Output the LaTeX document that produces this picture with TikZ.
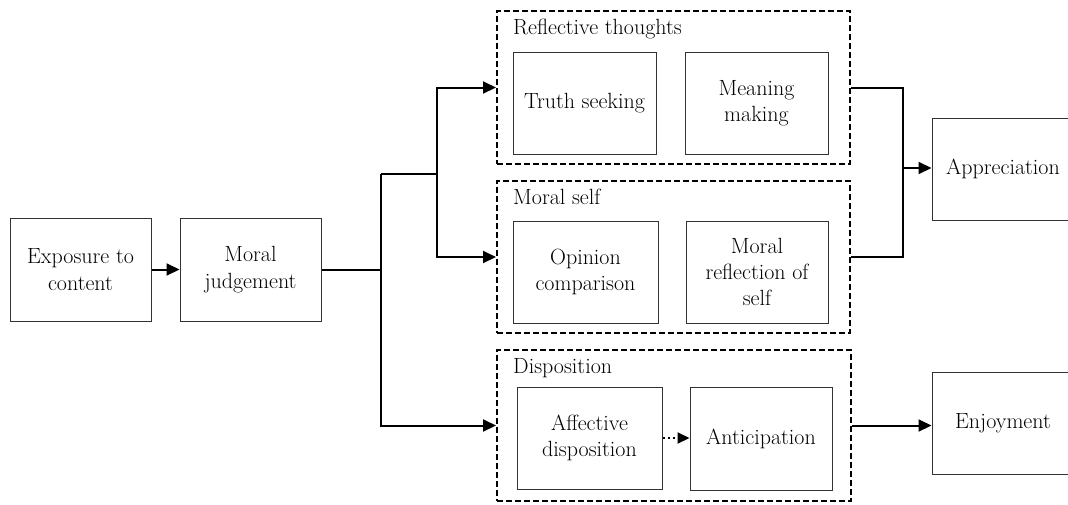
\documentclass[tikz,border=0pt]{standalone}
\usepackage{fontspec}
\setmainfont{Latin Modern Roman}
\usetikzlibrary{arrows.meta}
\begin{document}
\begin{tikzpicture}[x=1pt,y=-1pt,
  box/.style={draw=black!80, line width=1pt, inner sep=0pt, align=center,
    font=\rmfamily\fontsize{22}{26.4}\selectfont},
  grp/.style={draw=black, line width=2pt, dash pattern=on 6pt off 3pt, inner sep=0pt},
  lbl/.style={anchor=base west, inner sep=0pt, font=\rmfamily\fontsize{22}{26.4}\selectfont},
  conn/.style={line width=2pt, -{Triangle[length=13pt,width=12pt]}},
  plain/.style={line width=2pt},
  dotconn/.style={line width=2pt, dash pattern=on 2pt off 3pt, -{Triangle[length=12pt,width=11pt]}}
]
\useasboundingbox (0,0) rectangle (1068,504);
\clip (0,0) rectangle (1068,504);

% groups
\node[grp, minimum width=353pt, minimum height=153pt] (grp1) at (673.5,87.5) {};
\node[grp, minimum width=353pt, minimum height=152pt] (grp2) at (673.5,257) {};
\node[grp, minimum width=354pt, minimum height=151pt] (grp3) at (674,425.5) {};
\node[lbl] (l1) at (513,34) {Reflective thoughts};
\node[lbl] (l2) at (513,204) {Moral self};
\node[lbl] (l3) at (513,373) {Disposition};

% boxes
\node[box, minimum width=141pt, minimum height=103pt] (expo) at (80.5,269.5) {Exposure to\\content};
\node[box, minimum width=141pt, minimum height=103pt] (moral) at (250.5,269.5) {Moral\\judgement};
\node[box, minimum width=143pt, minimum height=102pt] (truth) at (584.5,103) {Truth seeking};
\node[box, minimum width=143pt, minimum height=102pt] (meaning) at (756.5,103) {Meaning\\making};
\node[box, minimum width=145pt, minimum height=102pt] (opinion) at (585.5,272) {Opinion\\comparison};
\node[box, minimum width=142pt, minimum height=102pt] (reflself) at (757,272) {Moral\\reflection of\\self};
\node[box, minimum width=145pt, minimum height=102pt] (affect) at (589.5,438) {Affective\\disposition};
\node[box, minimum width=142pt, minimum height=103pt] (antic) at (761,438.5) {Anticipation};
\node[box, minimum width=142pt, minimum height=102pt] (apprec) at (1003,169) {Appreciation};
\node[box, minimum width=142pt, minimum height=102pt] (enjoy) at (1003,423) {Enjoyment};

% junctions
\coordinate (ja) at (381,174);
\coordinate (jb) at (437,174);
\coordinate (jr) at (903,168);

% connectors
\draw[conn] (expo.east) -- (moral.west);
\draw[plain] (moral.east) -- (moral.east -| ja);
\draw[conn] (ja) |- (grp3.west);
\draw[plain] (ja) -- (jb);
\draw[conn] (jb) |- (grp1.west);
\draw[conn] (jb) |- (grp2.west);
\draw[plain] (grp1.east) -| (jr);
\draw[plain] (grp2.east) -| (jr);
\draw[conn] (jr) -- (jr -| apprec.west);
\draw[conn] (grp3.east) -- (grp3.east -| enjoy.west);
\draw[dotconn] (affect.east) -- (affect.east -| antic.west);
\end{tikzpicture}
\end{document}
